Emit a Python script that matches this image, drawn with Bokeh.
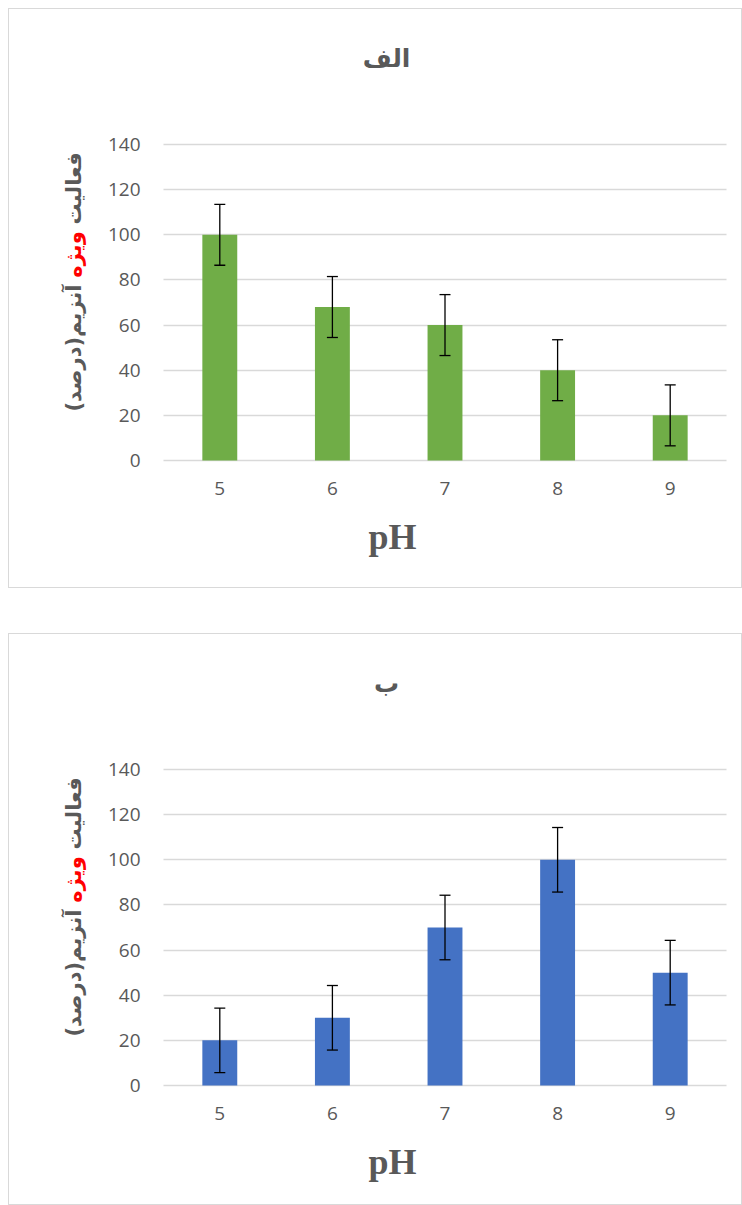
import math
from bokeh.plotting import figure
from bokeh.models import (Range1d, ColumnDataSource, Whisker, TeeHead, Label,
                          FixedTicker, Grid)
from bokeh.layouts import column
from bokeh.embed import file_html
from bokeh.resources import INLINE

# ---- data ----
ph_levels = [5, 6, 7, 8, 9]
ph_labels = ["5", "6", "7", "8", "9"]
activity_a = [100, 68, 60, 40, 20]
error_a = [13.5, 13.5, 13.5, 13.5, 13.5]
activity_b = [20, 30, 70, 100, 50]
error_b = [14.3, 14.3, 14.3, 14.3, 14.3]
y_ticks = [0, 20, 40, 60, 80, 100, 120, 140]
title_a = "الف"
title_b = "ب"
ylabel_parts = ["فعالیت", "ویژه", "آنزیم(درصد)\u200f"]
xlabel = "pH"

GRAY = "#595959"
GRID = "#d9d9d9"
AR_FONT = "DejaVu Sans"
NUM_FONT = "Open Sans"

W = 734
# layout geometry (pixels inside each figure)
FRAME_L, FRAME_R = 154, 717
FRAME_T, FRAME_B = 135, 451


def make_chart(title, values, errors, color, height):
    src = ColumnDataSource(dict(
        ph=ph_levels, val=values,
        up=[v + e for v, e in zip(values, errors)],
        lo=[v - e for v, e in zip(values, errors)],
    ))
    x0, x1 = ph_levels[0] - 0.5, ph_levels[-1] + 0.5
    y0, y1 = y_ticks[0], y_ticks[-1]
    kx = (FRAME_R - FRAME_L) / (x1 - x0)
    ky = (FRAME_B - FRAME_T) / (y1 - y0)
    xr = Range1d(x0 - FRAME_L / kx, x1 + (W - FRAME_R) / kx)
    yr = Range1d(y0 - (height - FRAME_B) / ky, y1 + FRAME_T / ky)

    p = figure(width=W, height=height, x_range=xr, y_range=yr,
               output_backend="svg", toolbar_location=None,
               min_border=0)
    p.styles = {"border": "1px solid #d9d9d9"}
    p.outline_line_color = None
    p.background_fill_color = "white"
    p.border_fill_color = "white"

    # axes at fixed locations inside the (full-canvas) frame
    p.xaxis.fixed_location = y0
    p.yaxis.fixed_location = x0

    p.xgrid.grid_line_color = None
    p.ygrid.grid_line_color = GRID
    p.ygrid.grid_line_width = 1.5
    if "cross_bounds" in Grid.properties():
        p.ygrid.cross_bounds = (x0, x1)

    p.vbar(x="ph", top="val", width=0.31, source=src,
           fill_color=color, line_color=None)

    w = Whisker(base="ph", upper="up", lower="lo", source=src,
                line_color="black", line_width=1.3, level="overlay",
                upper_head=TeeHead(size=11, line_color="black", line_width=1.3),
                lower_head=TeeHead(size=11, line_color="black", line_width=1.3))
    p.add_layout(w)

    p.yaxis.ticker = FixedTicker(ticks=y_ticks)
    p.yaxis.axis_line_color = None
    p.yaxis.major_tick_line_color = None
    p.yaxis.minor_tick_line_color = None
    p.yaxis.major_label_standoff = 17
    p.yaxis.major_label_text_font = NUM_FONT
    p.yaxis.major_label_text_font_size = "19px"
    p.yaxis.major_label_text_color = GRAY

    p.xaxis.ticker = FixedTicker(ticks=ph_levels)
    p.xaxis.major_label_overrides = dict(zip(ph_levels, ph_labels))
    p.xaxis.axis_line_color = None
    p.xaxis.major_tick_line_color = None
    p.xaxis.minor_tick_line_color = None
    p.xaxis.major_label_standoff = 15
    p.xaxis.major_label_text_font = NUM_FONT
    p.xaxis.major_label_text_font_size = "19px"
    p.xaxis.major_label_text_color = GRAY

    def sy(fy):  # top-down pixel -> bottom-up screen units
        return height - fy

    # title
    p.add_layout(Label(x=377, y=sy(49), x_units="screen", y_units="screen",
                       text=title, text_align="center", text_baseline="middle",
                       text_font=AR_FONT, text_font_style="bold",
                       text_font_size="25px", text_color=GRAY))
    # x label
    p.add_layout(Label(x=383, y=sy(527), x_units="screen", y_units="screen",
                       text=xlabel, text_align="center", text_baseline="alphabetic",
                       text_font="Liberation Serif", text_font_style="bold",
                       text_font_size="36px", text_color=GRAY))
    # y label in three coloured parts, rotated
    ang = math.pi / 2
    lx = 64
    common = dict(x_units="screen", y_units="screen", angle=ang,
                  text_baseline="middle", text_font=AR_FONT,
                  text_font_style="bold", text_font_size="21px")
    p.add_layout(Label(x=lx, y=sy(245), text=ylabel_parts[1], text_align="center",
                       text_color="#ff0000", **common))
    p.add_layout(Label(x=lx, y=sy(215), text=ylabel_parts[0], text_align="left",
                       text_color=GRAY, **common))
    p.add_layout(Label(x=lx, y=sy(275), text=ylabel_parts[2], text_align="right",
                       text_color=GRAY, **common))
    return p


p1 = make_chart(title_a, activity_a, error_a, "#70ad47", 580)
p2 = make_chart(title_b, activity_b, error_b, "#4472c4", 572)
layout = column(p1, p2, spacing=45, margin=(8, 0, 0, 8))

open("out.html", "w").write(file_html(layout, INLINE))
